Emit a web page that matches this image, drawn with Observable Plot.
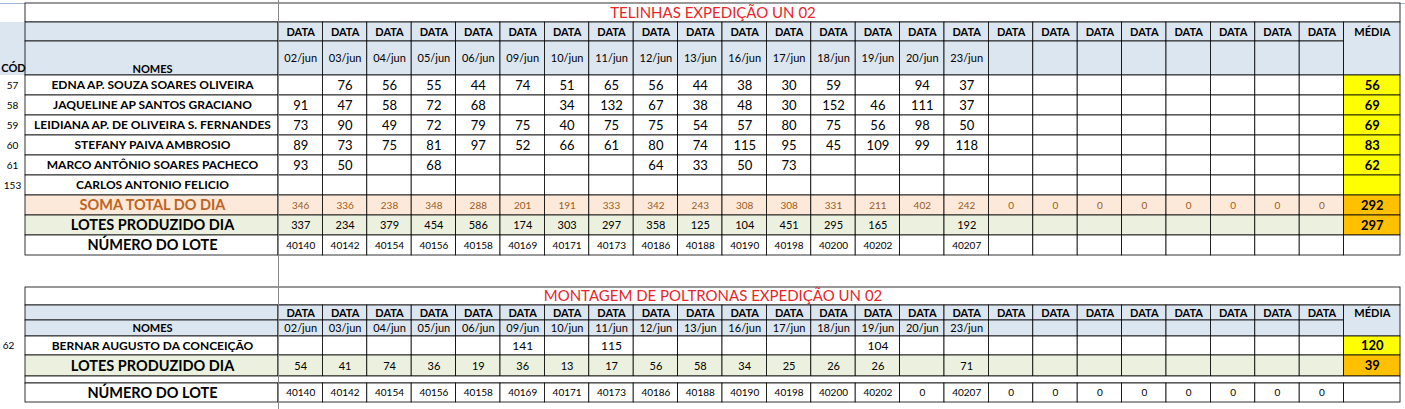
<!DOCTYPE html>
<html><head><meta charset="utf-8">
<script src="https://cdn.jsdelivr.net/npm/d3@7"></script>
<script src="https://cdn.jsdelivr.net/npm/@observablehq/plot@0.6"></script>
<style>body{margin:0;background:#fff}</style>
</head><body><div id="c"></div>
<script>
const dates = ["02/jun","03/jun","04/jun","05/jun","06/jun","09/jun","10/jun","11/jun","12/jun","13/jun","16/jun","17/jun","18/jun","19/jun","20/jun","23/jun"];
const codes = ["57","58","59","60","61","153"];
const names = ["EDNA AP. SOUZA SOARES OLIVEIRA","JAQUELINE AP SANTOS GRACIANO","LEIDIANA AP. DE OLIVEIRA S. FERNANDES","STEFANY PAIVA AMBROSIO","MARCO ANTÔNIO SOARES PACHECO","CARLOS ANTONIO FELICIO"];
const values = [
  ["",76,56,55,44,74,51,65,56,44,38,30,59,"",94,37],
  [91,47,58,72,68,"",34,132,67,38,48,30,152,46,111,37],
  [73,90,49,72,79,75,40,75,75,54,57,80,75,56,98,50],
  [89,73,75,81,97,52,66,61,80,74,115,95,45,109,99,118],
  [93,50,"",68,"","","","",64,33,50,73,"","","",""],
  ["","","","","","","","","","","","","","","",""]
];
const medias = [56,69,69,83,62,""];
const soma = [346,336,238,348,288,201,191,333,342,243,308,308,331,211,402,242,0,0,0,0,0,0,0,0];
const somaMedia = 292;
const lotes = [337,234,379,454,586,174,303,297,358,125,104,451,295,165,"",192];
const lotesMedia = 297;
const numeroLote = [40140,40142,40154,40156,40158,40169,40171,40173,40186,40188,40190,40198,40200,40202,"",40207];
const title1 = "TELINHAS EXPEDIÇÃO UN 02";
const title2 = "MONTAGEM DE POLTRONAS EXPEDIÇÃO UN 02";
const name2 = "BERNAR AUGUSTO DA CONCEIÇÃO", code2 = "62";
const values2 = ["","","","","",141,"",115,"","","","","",104,"",""];
const media2 = 120;
const lotes2 = [54,41,74,36,19,36,13,17,56,58,34,25,26,26,"",71];
const lotes2Media = 39;
const numero2 = [40140,40142,40154,40156,40158,40169,40171,40173,40186,40188,40190,40198,40200,40202,0,40207,0,0,0,0,0,0,0,0];

// layout
const X0 = 278, CW = 44.4, NC = 24;
const cx = i => X0 + i*CW;
const MX1 = cx(NC), MX2 = 1400;
const BLUE="#dce6f1", PEACH="#fde9d9", GREEN="#ebf1de", YEL="#ffff00", ORA="#ffc000";
const cells = [], texts = [];
function cell(x1,x2,y1,y2,fill,stroke="#000"){cells.push({x1,x2,y1,y2,fill,stroke});}
function txt(x,y,t,o={}){texts.push({x,y,t:String(t),size:o.size||12,weight:o.weight||"normal",color:o.color||"#000",anchor:o.anchor||"middle"});}
function rowCells(y1,y2,arr,fill,opts,mediaVal,mediaFill,mediaOpts){
  for(let i=0;i<NC;i++){cell(cx(i),cx(i+1),y1,y2,fill); const v=arr[i]; if(v!==undefined&&v!=="") txt(cx(i)+CW/2,(y1+y2)/2,v,opts);}
  cell(MX1,MX2,y1,y2,mediaFill||fill);
  if(mediaVal!==undefined&&mediaVal!=="") txt((MX1+MX2)/2,(y1+y2)/2,mediaVal,mediaOpts||{weight:"bold",size:13});
}
function header(yA,yB,yC,withCod){
  cell(withCod?0:25,25,yA,yC,BLUE,"none");
  cell(25,X0,yA,yB,BLUE); cell(25,X0,yB,yC,BLUE);
  for(let i=0;i<NC;i++){cell(cx(i),cx(i+1),yA,yB,BLUE);cell(cx(i),cx(i+1),yB,yC,BLUE);
    txt(cx(i)+CW/2,(yA+yB)/2,"DATA",{weight:"bold",size:11});
    if(dates[i]) txt(cx(i)+CW/2,(yB+yC)/2,dates[i],{size:11});}
  cell(MX1,MX2,yA,yC,BLUE);
  txt((MX1+MX2)/2,(yA+yB)/2,"MÉDIA",{weight:"bold",size:11});
}
// top table
cell(25,MX2,3,22,"#fff");
txt((25+MX2)/2,12.5,title1,{size:15,color:"#e8262a"});
header(22,41,75,true);
txt(13,68,"CÓD",{weight:"bold",size:11});
txt(152,69,"NOMES",{weight:"bold",size:11});
const rowY=[75,95,115,135,155,175,195,215,235,255];
names.forEach((n,r)=>{const y1=rowY[r],y2=rowY[r+1];
  cell(25,X0,y1,y2,"#fff"); txt(152,(y1+y2)/2,n,{weight:"bold",size:12});
  txt(12,(y1+y2)/2,codes[r],{size:10});
  rowCells(y1,y2,values[r],"#fff",{size:13},medias[r],YEL);
});
cell(25,X0,195,215,PEACH); txt(152,205,"SOMA TOTAL DO DIA",{weight:"bold",size:14.5,color:"#c0631f"});
rowCells(195,215,soma,PEACH,{size:10,color:"#9c5a1c"},somaMedia,ORA);
cell(25,X0,215,235,GREEN); txt(152,225,"LOTES PRODUZIDO DIA",{weight:"bold",size:14.5});
rowCells(215,235,lotes,GREEN,{size:11},lotesMedia,ORA);
cell(25,X0,235,255,"#fff"); txt(152,245,"NÚMERO DO LOTE",{weight:"bold",size:14.5});
rowCells(235,255,numeroLote,"#fff",{size:10});
// bottom table
cell(25,MX2,287,305,"#fff");
txt((25+MX2)/2,296,title2,{size:15,color:"#e8262a"});
header(305,320,336,false);
txt(152,328,"NOMES",{weight:"bold",size:11});
cell(25,X0,336,355,"#fff"); txt(152,345.5,name2,{weight:"bold",size:12});
txt(8,345.5,code2,{size:10});
rowCells(336,355,values2,"#fff",{size:12},media2,YEL);
cell(25,X0,355,376,GREEN); txt(152,365.5,"LOTES PRODUZIDO DIA",{weight:"bold",size:14.5});
rowCells(355,376,lotes2,GREEN,{size:11},lotes2Media,ORA);
cell(25,MX2,376,383,"#fff");
cell(25,X0,383,402,"#fff"); txt(152,392.5,"NÚMERO DO LOTE",{weight:"bold",size:14.5});
rowCells(383,402,numero2,"#fff",{size:10});

const plot = Plot.plot({
  width:1405,height:409,margin:0,
  x:{type:"linear",domain:[0,1405],range:[0,1405],axis:null},
  y:{type:"linear",domain:[0,409],range:[0,409],axis:null},
  style:{fontFamily:"Lato, 'Open Sans', sans-serif",background:"#fff"},
  marks:[
    Plot.ruleY([3],{x1:0,x2:1405,stroke:"#9fb5d6"}),
    Plot.rect(cells,{x1:"x1",x2:"x2",y1:"y1",y2:"y2",fill:"fill",stroke:"stroke",strokeWidth:0.8,inset:0}),
    Plot.ruleX([X0],{y1:0,y2:409,stroke:"#888",strokeWidth:1}),
    Plot.text(texts,{x:"x",y:"y",text:"t",fill:"color",textAnchor:"anchor",lineAnchor:"middle"})
  ]
});
document.getElementById("c").append(plot);
const tn = plot.querySelectorAll("g[aria-label='text'] text");
tn.forEach((el,i)=>{const d=texts[i]; el.setAttribute("font-size",d.size); el.setAttribute("font-weight",d.weight);});
</script></body></html>
